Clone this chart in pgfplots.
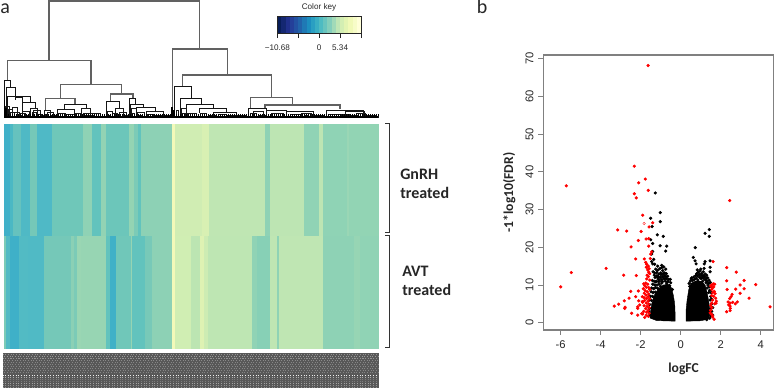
\documentclass[border=0pt]{standalone}
\usepackage{fontspec}
\setmainfont{Liberation Sans}
\newfontfamily\carl{Carlito}
\usepackage{pgfplots}
\pgfplotsset{compat=1.18}
\definecolor{k0}{HTML}{081D58}\definecolor{k1}{HTML}{142771}\definecolor{k2}{HTML}{20308B}\definecolor{k3}{HTML}{243F99}
\definecolor{k4}{HTML}{2351A2}\definecolor{k5}{HTML}{2263AA}\definecolor{k6}{HTML}{1F79B5}\definecolor{k7}{HTML}{1D8EBF}
\definecolor{k8}{HTML}{2A9FC2}\definecolor{k9}{HTML}{39AEC3}\definecolor{k10}{HTML}{4EBBC2}\definecolor{k11}{HTML}{68C4BE}
\definecolor{k12}{HTML}{83CEBB}\definecolor{k13}{HTML}{A1DAB8}\definecolor{k14}{HTML}{BFE6B5}\definecolor{k15}{HTML}{D3EEB3}
\definecolor{k16}{HTML}{E3F4B2}\definecolor{k17}{HTML}{F0F9B7}\definecolor{k18}{HTML}{F7FCC8}\definecolor{k19}{HTML}{FFFFD9}
% one heat-map band: x0 x1 y0 y1 colour
\newcommand\band[5]{\definecolor{h#5}{HTML}{#5}\addplot[fill=h#5,draw=h#5,line width=0.1pt,forget plot] coordinates {(#1,#3)(#2,#3)(#2,#4)(#1,#4)} -- cycle;}
\newcommand\T[5]{\band{#1}{#2}{124}{236}{#5}}
\newcommand\Bt[5]{\band{#1}{#2}{236}{348.3}{#5}}
\newcommand\U[5]{\addplot[black!92,line width=0.7pt,forget plot] coordinates {(#1,#4)(#1,#3)(#2,#3)(#2,#5)};}
\newcommand\G[5]{\addplot[black!62,line width=0.85pt,forget plot] coordinates {(#1,#4)(#1,#3)(#2,#3)(#2,#5)};}
\newcommand\Sm[3]{\addplot[black!90,line width=0.55pt,forget plot] coordinates {(#1,352)(#1,#3)(#2,#3)(#2,352)};}
\newcommand\Rw[3]{\addplot[white,opacity=#3,line width=0.7pt,dash pattern=on 0.8pt off 1.2pt,dash phase=#2pt,forget plot] coordinates {(3,#1)(378,#1)};}
\begin{document}
\begin{tikzpicture}
\useasboundingbox (0,0) rectangle (581.25pt,291pt);
% canvas in reference pixels: heat map, brackets, label block, texts
\begin{axis}[at={(0,0)},anchor=south west,scale only axis,width=581.25pt,height=291pt,
 xmin=0,xmax=775,ymin=0,ymax=388,y dir=reverse,hide axis,clip=false]
\T{4}{10}{}{}{40B0C8}\T{10}{12.7}{}{}{4BB8C4}\T{12.7}{21}{}{}{66C2BE}\T{21}{30}{}{}{4FB9C5}\T{30}{36.7}{}{}{75C8B8}
\T{36.7}{51.7}{}{}{4FB9C6}\T{51.7}{83.3}{}{}{6FC7B9}\T{83.3}{92.3}{}{}{8FD2B5}\T{92.3}{101}{}{}{62C3BD}\T{101}{106}{}{}{92D3B4}
\T{106}{128.7}{}{}{6CC6BA}\T{128.7}{134}{}{}{94D4B3}\T{134}{138.3}{}{}{7CCBB7}\T{138.3}{140.7}{}{}{62C3BD}\T{140.7}{172}{}{}{8DD1B5}
\T{172}{175}{}{}{F2F9B9}\T{175}{201.7}{}{}{D0EDB3}\T{201.7}{209}{}{}{D8F0B3}\T{209}{265}{}{}{BFE6B3}\T{265}{270}{}{}{8ED2B5}
\T{270}{304}{}{}{BDE5B3}\T{304}{319}{}{}{90D3B5}\T{319}{323.3}{}{}{BDE5B3}\T{323.3}{346.7}{}{}{8FD3B5}\T{346.7}{349}{}{}{9AD6B5}\T{349}{378.3}{}{}{92D4B4}
\Bt{4}{6}{}{}{7CCBB7}\Bt{6}{10}{}{}{52BAC4}\Bt{10}{19.3}{}{}{3FB0C8}\Bt{19.3}{28.3}{}{}{52BBC4}\Bt{28.3}{44}{}{}{50BAC5}
\Bt{44}{70.7}{}{}{75C8B8}\Bt{70.7}{74}{}{}{8BD0B5}\Bt{74}{77.3}{}{}{7CCBB7}\Bt{77.3}{81}{}{}{9AD6B3}\Bt{81}{106}{}{}{97D5B3}
\Bt{106}{110}{}{}{62C3BD}\Bt{110}{115.7}{}{}{40B1C7}\Bt{115.7}{130.7}{}{}{70C7B9}\Bt{130.7}{132.3}{}{}{96D4B3}\Bt{132.3}{145}{}{}{62C3BD}
\Bt{145}{151.7}{}{}{78C9B8}\Bt{151.7}{172}{}{}{8DD1B5}\Bt{172}{175}{}{}{F2F9B9}\Bt{175}{190.7}{}{}{D0EEB3}\Bt{190.7}{200}{}{}{BCE5B2}
\Bt{200}{204.3}{}{}{DEF2B3}\Bt{204.3}{208.3}{}{}{CDECB3}\Bt{208.3}{251.7}{}{}{BEE6B3}\Bt{251.7}{256.7}{}{}{90D3B5}\Bt{256.7}{270}{}{}{87D0B6}
\Bt{270}{276.7}{}{}{BFE6B3}\Bt{276.7}{278.7}{}{}{8FD3B5}\Bt{278.7}{323.3}{}{}{BFE6B3}\Bt{323.3}{354}{}{}{8ED2B5}\Bt{354}{360}{}{}{97D5B4}\Bt{360}{378.3}{}{}{90D3B5}
% sample-label block
\band{3}{378}{353}{388}{585858}
\Rw{354.5}{0.3}{0.35}\Rw{356.5}{1.1}{0.4}\Rw{358.5}{0.4}{0.35}\Rw{360.5}{1.2}{0.3}\Rw{362.5}{0.2}{0.28}\Rw{364.5}{1.0}{0.28}
\Rw{366.5}{0.2}{0.28}\Rw{368.5}{1.0}{0.28}\Rw{370.5}{0.2}{0.28}\Rw{372.5}{1.0}{0.28}\Rw{375}{0.5}{0.9}\Rw{377}{0.5}{0.5}
\Rw{379}{0.5}{0.22}\Rw{381}{0.5}{0.22}\Rw{383}{0.5}{0.45}\Rw{385}{0.5}{0.35}\Rw{387}{0.5}{0.35}
% brackets
\addplot[black!80,line width=0.6pt,forget plot] coordinates {(385,124)(389.3,124)(389.3,233)(385,233)};
\addplot[black!80,line width=0.6pt,forget plot] coordinates {(385,235.7)(389.3,235.7)(389.3,347.7)(385,347.7)};
\node[anchor=west,inner sep=0pt,font=\carl\bfseries\fontsize{12}{12}\selectfont,text=black!85] at (400,175) {GnRH};
\node[anchor=west,inner sep=0pt,font=\carl\bfseries\fontsize{12}{12}\selectfont,text=black!85] at (400,193.5) {treated};
\node[anchor=west,inner sep=0pt,font=\carl\bfseries\fontsize{12}{12}\selectfont,text=black!85] at (402,271.5) {AVT};
\node[anchor=west,inner sep=0pt,font=\carl\bfseries\fontsize{12}{12}\selectfont,text=black!85] at (402,290.5) {treated};
\node[anchor=base west,inner sep=0pt,font=\carl\fontsize{15}{15}\selectfont,text=black!85] at (0,14) {a};
\node[anchor=base west,inner sep=0pt,font=\carl\fontsize{15}{15}\selectfont,text=black!85] at (476.5,14) {b};
\node[font=\fontsize{6.1}{6.1}\selectfont,text=black!85] at (319,7.5) {Color key};
\end{axis}
% dendrogram, in units of a third of a reference pixel
\begin{axis}[at={(0,0)},anchor=south west,scale only axis,width=581.25pt,height=291pt,
 xmin=0,xmax=2325,ymin=0,ymax=1164,y dir=reverse,hide axis,clip=false]
\G{147}{598}{3}{182}{147}
\G{22}{273}{182}{240}{253}
\G{517}{682}{147}{352}{225}
\G{181}{365}{253}{295}{282}
\G{548}{815}{225}{260}{292}
\G{136}{225}{295}{330}{313}
\G{331}{399}{282}{305}{295}
\G{752}{877}{292}{325}{315}
\G{795}{1020}{315}{325}{328}
\U{14}{32}{240}{352}{262}
\U{18}{46}{262}{352}{290}
\U{22}{90}{290}{352}{308}
\U{46}{68}{291}{300}{310}
\U{68}{105}{308}{335}{326}
\U{193}{258}{313}{328}{325}
\U{318}{358}{305}{352}{325}
\U{388}{405}{295}{352}{312}
\U{392}{430}{312}{352}{323}
\U{408}{466}{323}{352}{335}
\U{522}{575}{260}{352}{295}
\U{540}{605}{295}{352}{312}
\U{560}{640}{312}{340}{328}
\U{598}{680}{325}{340}{337}
\U{640}{710}{337}{352}{345}
\U{745}{800}{325}{352}{340}
\U{860}{940}{335}{352}{352}
\Sm{16}{28}{320}\Sm{26}{36}{328}\Sm{30}{42}{336}\Sm{36}{52}{322}\Sm{44}{58}{338}\Sm{54}{64}{345}\Sm{60}{76}{340}
\Sm{66}{88}{335}\Sm{72}{82}{345}\Sm{92}{112}{326}\Sm{96}{108}{338}\Sm{100}{120}{332}\Sm{112}{126}{342}\Sm{122}{132}{346}
\Sm{132}{150}{330}\Sm{136}{146}{342}\Sm{142}{160}{338}\Sm{150}{168}{345}\Sm{160}{170}{348}
\Sm{172}{222}{328}\Sm{176}{196}{340}\Sm{180}{190}{348}\Sm{198}{222}{342}\Sm{204}{216}{348}\Sm{226}{244}{340}\Sm{232}{240}{348}
\Sm{245}{272}{325}\Sm{250}{300}{340}\Sm{254}{280}{347}\Sm{284}{300}{348}\Sm{302}{316}{348}
\Sm{322}{336}{335}\Sm{324}{332}{345}\Sm{338}{352}{340}\Sm{345}{370}{325}\Sm{350}{362}{342}\Sm{358}{380}{338}\Sm{372}{386}{345}
\Sm{394}{410}{325}\Sm{396}{404}{340}\Sm{412}{432}{338}\Sm{416}{426}{346}\Sm{438}{490}{335}\Sm{442}{460}{342}\Sm{462}{486}{346}\Sm{490}{508}{347}
\Sm{528}{536}{330}\Sm{544}{560}{325}\Sm{548}{556}{340}\Sm{562}{590}{340}\Sm{600}{620}{340}\Sm{628}{650}{345}\Sm{655}{680}{342}
\Sm{680}{705}{347}\Sm{710}{740}{345}\Sm{722}{738}{350}\Sm{750}{770}{340}\Sm{760}{790}{335}\Sm{775}{800}{345}
\Sm{800}{860}{330}\Sm{815}{850}{340}\Sm{870}{900}{342}\Sm{880}{895}{348}\Sm{905}{935}{340}\Sm{912}{925}{347}\Sm{940}{970}{345}
\Sm{978}{1090}{330}\Sm{985}{1050}{342}\Sm{990}{1015}{348}\Sm{1020}{1045}{345}\Sm{1035}{1092}{335}\Sm{1045}{1075}{345}
\Sm{1070}{1095}{340}\Sm{1080}{1090}{348}\Sm{1095}{1125}{347}\Sm{1110}{1135}{350}
% dense leaf fringe
\addplot[black,line width=1.7pt,dash pattern=on 0.7pt off 0.8pt,forget plot] coordinates {(12,346)(1135,346)};
\addplot[black,line width=0.8pt,forget plot] coordinates {(12,351)(1135,351)};
\addplot[black,line width=1.2pt,forget plot] coordinates {(13,300)(13,352)};
\addplot[black,line width=2pt,forget plot] coordinates {(16,325)(16,352)};
\addplot[black,line width=1.4pt,forget plot] coordinates {(516,320)(516,352)};
\addplot[black,line width=1.6pt,forget plot] coordinates {(522,330)(522,352)};
\end{axis}
% colour key
\begin{axis}[at={(207.98pt,266.25pt)},anchor=south west,scale only axis,width=62.8pt,height=12.75pt,
 xmin=-10.68,xmax=10.68,ymin=0,ymax=1,ytick=\empty,
 xtick={-10.68,-5.34,0,5.34,10.68},xticklabels={−10.68,,0,5.34,},
 x tick label style={font=\fontsize{6.1}{6.1}\selectfont,text=black!85,yshift=-1.8pt},
 /pgf/number format/assume math mode=true,
 axis line style={black!85,line width=0.4pt},tick style={black!85,line width=0.5pt},
 tick align=outside,xtick pos=bottom,major tick length=3.8pt,axis on top]
\addplot[fill=k0,draw=k0,line width=0.1pt] coordinates {(-10.68,0)(-9.612,0)(-9.612,1)(-10.68,1)} -- cycle;
\addplot[fill=k1,draw=k1,line width=0.1pt] coordinates {(-9.612,0)(-8.544,0)(-8.544,1)(-9.612,1)} -- cycle;
\addplot[fill=k2,draw=k2,line width=0.1pt] coordinates {(-8.544,0)(-7.476,0)(-7.476,1)(-8.544,1)} -- cycle;
\addplot[fill=k3,draw=k3,line width=0.1pt] coordinates {(-7.476,0)(-6.408,0)(-6.408,1)(-7.476,1)} -- cycle;
\addplot[fill=k4,draw=k4,line width=0.1pt] coordinates {(-6.408,0)(-5.34,0)(-5.34,1)(-6.408,1)} -- cycle;
\addplot[fill=k5,draw=k5,line width=0.1pt] coordinates {(-5.34,0)(-4.272,0)(-4.272,1)(-5.34,1)} -- cycle;
\addplot[fill=k6,draw=k6,line width=0.1pt] coordinates {(-4.272,0)(-3.204,0)(-3.204,1)(-4.272,1)} -- cycle;
\addplot[fill=k7,draw=k7,line width=0.1pt] coordinates {(-3.204,0)(-2.136,0)(-2.136,1)(-3.204,1)} -- cycle;
\addplot[fill=k8,draw=k8,line width=0.1pt] coordinates {(-2.136,0)(-1.068,0)(-1.068,1)(-2.136,1)} -- cycle;
\addplot[fill=k9,draw=k9,line width=0.1pt] coordinates {(-1.068,0)(0,0)(0,1)(-1.068,1)} -- cycle;
\addplot[fill=k10,draw=k10,line width=0.1pt] coordinates {(0,0)(1.068,0)(1.068,1)(0,1)} -- cycle;
\addplot[fill=k11,draw=k11,line width=0.1pt] coordinates {(1.068,0)(2.136,0)(2.136,1)(1.068,1)} -- cycle;
\addplot[fill=k12,draw=k12,line width=0.1pt] coordinates {(2.136,0)(3.204,0)(3.204,1)(2.136,1)} -- cycle;
\addplot[fill=k13,draw=k13,line width=0.1pt] coordinates {(3.204,0)(4.272,0)(4.272,1)(3.204,1)} -- cycle;
\addplot[fill=k14,draw=k14,line width=0.1pt] coordinates {(4.272,0)(5.34,0)(5.34,1)(4.272,1)} -- cycle;
\addplot[fill=k15,draw=k15,line width=0.1pt] coordinates {(5.34,0)(6.408,0)(6.408,1)(5.34,1)} -- cycle;
\addplot[fill=k16,draw=k16,line width=0.1pt] coordinates {(6.408,0)(7.476,0)(7.476,1)(6.408,1)} -- cycle;
\addplot[fill=k17,draw=k17,line width=0.1pt] coordinates {(7.476,0)(8.544,0)(8.544,1)(7.476,1)} -- cycle;
\addplot[fill=k18,draw=k18,line width=0.1pt] coordinates {(8.544,0)(9.612,0)(9.612,1)(8.544,1)} -- cycle;
\addplot[fill=k19,draw=k19,line width=0.1pt] coordinates {(9.612,0)(10.68,0)(10.68,1)(9.612,1)} -- cycle;
\end{axis}
% volcano plot
\begin{axis}[at={(407.475pt,43.5pt)},anchor=south west,scale only axis,width=172.5pt,height=206.25pt,
 xmin=-6.87,xmax=4.63,ymin=-1.94,ymax=71,
 xtick={-6,-4,-2,0,2,4},ytick={0,10,20,30,40,50,60,70},
 /pgf/number format/assume math mode=true,
 tick label style={font=\fontsize{8.4}{8.4}\selectfont,text=black!85},
 xticklabel style={yshift=-1pt},
 yticklabel style={rotate=90,anchor=south,yshift=0pt},
 axis line style={black!50,line width=0.8pt},tick style={black!50,line width=0.6pt},
 tick align=outside,xtick pos=bottom,ytick pos=left,major tick length=3.75pt,
 xlabel={logFC},ylabel={-1*log10(FDR)},
 label style={font=\carl\bfseries\fontsize{10.2}{10.2}\selectfont,text=black!85},
 xlabel style={at={(axis description cs:0.61,-0.142)},anchor=center},
 ylabel style={at={(axis description cs:-0.148,0.5)},anchor=center}]
\addplot[fill=black,draw=black,line width=0.3pt,forget plot] coordinates {(-0.28,0.4)(-0.28,2.5)(-0.3,5.1)(-0.37,7.3)(-0.45,9.1)(-0.57,10.2)(-0.87,10)(-1.12,9)(-1.3,7.5)(-1.45,5)(-1.52,2.5)(-1.5,1.15)(-1.2,0.55)} -- cycle;
\addplot[fill=black,draw=black,line width=0.3pt,forget plot] coordinates {(0.27,0.4)(0.27,3.4)(0.32,6)(0.4,8.7)(0.5,10.4)(0.72,11)(1.05,11)(1.22,10)(1.33,7.8)(1.42,5.1)(1.47,2.5)(1.38,0.9)(0.97,0.5)} -- cycle;
\addplot[only marks,black,mark=*,mark size=1pt,mark options={draw=none,fill=black},forget plot] coordinates {
(-1.27,34.4)(-1.02,29.2)(-1.02,26.8)(-1.5,27.7)(-1.43,25.5)(-1.17,23.3)(-0.87,22.9)(-1.5,22)(-1.4,21)(-1.03,20.4)(-0.7,20.3)(-0.75,19)(-1.45,18.2)
(-1.4,18.9)(-1.35,16.8)(-1.45,16.2)(-1.4,15.6)
(-1.3,15.5)(-1.15,15)(-0.95,15.2)(-0.85,14.8)(-1.25,14.2)(-1.05,14.3)(-0.75,14.2)(-0.9,13.8)(-1.38,13.5)(-1.2,13.3)(-0.8,13.2)(-0.72,13)(-1.1,12.9)(-0.98,12.7)(-0.65,12.3)
(-1.32,12.6)(-1.28,12)(-1.15,11.9)(-0.85,11.8)(-0.72,11.7)(-0.6,11.5)(-1.42,11.2)(-1.33,11)(-1.22,11)(-1.05,11)(-0.95,11.4)(-0.77,11)(-0.67,10.8)(-0.62,11)
(-1.4,10.2)(-1.3,10)(-1.18,10)(-1.08,10.2)(-0.95,10.5)(-1.45,9.2)(-1.35,9)(-1.25,9.3)(-1.15,9.1)(-1.48,8.2)(-1.38,8)(-1.27,8.1)(-1.52,7)(-1.42,7)(-1.35,6.8)
(-1.55,6)(-1.46,5.9)(-1.55,4.8)(-1.57,3.8)(-1.6,3)(-1.55,2)(-1.48,1.5)(-0.5,10.6)(-0.52,11.5)(-0.55,9.8)(-0.42,8.8)(-1.0,9.6)(-1.12,12.3)(-0.9,12.2)(-0.82,12.6)
(-1.25,10.8)(-1.12,10.9)(-0.9,10.9)(-0.8,11.6)(-1.02,12)(-1.2,12.4)(-0.75,12.3)(-0.88,13)(-1,13.2)(-1.15,13.9)(-0.95,14.6)(-1.3,13.2)(-0.7,10.3)(-1.1,11.5)
(1.43,24.7)(1.22,23.7)(1.43,22.9)(0.73,19.9)(0.63,17.3)(0.72,16.4)(0.77,15.6)(1.22,16.2)(1.18,15.6)(1.47,16.4)(1.47,14.7)(1.47,13.5)
(0.83,14)(0.97,13.7)(1.13,13.5)(1.22,12.9)(1.05,13)(1.3,12.6)(0.88,13.4)(1.17,14.4)(1,14.2)
(0.52,11.6)(0.6,11.2)(0.7,11.5)(0.78,11.8)(0.86,11.3)(0.95,12)(1.02,11.7)(1.1,12)(1.17,11.6)(1.25,11.3)(1.33,11)(1.42,11.3)(1.48,10.7)(1.36,10)(1.42,9.5)(1.5,9.6)
(1.45,8.6)(1.52,8)(1.4,8)(1.5,7)(1.55,6.3)(1.47,6)(1.55,5)(1.6,4)(1.5,3.8)(1.55,3)(1.6,2)(1.5,1.8)(1.45,1.2)(1.3,0.8)(1.27,10.6)(1.32,9.2)(0.45,9.6)(0.42,10.4)
(0.55,11.9)(0.65,12.1)(0.75,12.5)(0.85,12.4)(0.93,12.8)(1.02,12.4)(1.12,12.5)(1.2,12.2)(1.35,11.9)(1.4,10.4)(0.48,11)(1.28,11.8)(0.8,13)(1.1,11)
};
\addplot[only marks,red,mark=*,mark size=1pt,mark options={draw=none,fill=red},forget plot] coordinates {
(-1.63,68.2)(-2.32,41.5)(-1.77,38.1)(-2.1,37.1)(-1.62,35.1)(-2.32,34.2)(-2.22,33.1)(-5.72,36.3)(2.45,32.4)(-1.9,28.5)(-1.4,26.5)(-1.58,25.4)(-3.15,24.6)(-2.7,24.3)(-1.98,24.2)
(-2.12,21.8)(-1.73,22.2)(-1.6,22.3)(-2.48,20.1)(-1.6,20.3)(-1.45,18.8)(-1.5,18.2)(-2.25,16.9)(-1.82,16.9)(-1.52,17)(-3.73,14.4)(-5.47,13.3)(-6,9.5)(-2.85,12.6)(-2.22,12.5)
(-2.5,8.3)(-2.12,8.4)(-2.58,6.5)(-2.25,6.9)(-2.82,5.8)(-3.1,4.9)(-3.32,4.4)(-2.8,3.8)(-2.78,4.1)(-2.45,2.5)(-2.15,2)(-2.15,3.8)(-2.15,4.2)(-1.92,5.6)(-2.1,5.8)(-2.05,4.7)(-1.95,2.4)
(-1.75,16)(-1.7,15.5)(-1.62,15)(-1.72,14.7)(-1.58,14.3)(-1.65,14)(-1.6,13.4)(-1.55,13)(-1.68,12.6)(-1.62,12.2)(-1.7,11.6)(-1.55,11.3)(-1.75,10.5)(-1.85,10.3)(-1.65,10.2)(-1.8,9.8)
(-1.72,9.4)(-1.6,9.3)(-1.87,9)(-1.55,8.8)(-1.78,8.5)(-1.67,8.2)(-1.82,7.8)(-1.6,7.6)(-1.73,7.3)(-1.92,6.9)(-1.62,6.9)(-1.83,6.6)(-1.7,6.4)(-1.55,6.3)(-1.8,5.9)(-1.63,5.7)(-1.9,5.4)
(-1.72,5.2)(-1.6,4.9)(-1.83,4.5)(-1.68,4.3)(-1.57,4)(-1.75,3.7)(-1.62,3.3)(-1.85,3)(-1.7,2.8)(-1.58,2.5)(-1.9,2.3)(-1.72,2)(-1.62,1.7)(-1.8,1.4)
(1.62,16.2)(1.55,10)(1.63,10.3)(1.7,10.2)(1.5,9.7)(1.58,9.2)(1.65,9.5)(1.55,8.8)(1.68,8.3)(1.6,8)(1.72,7.7)(1.65,7)(1.55,7.2)(1.75,6.5)(1.78,5.7)(1.7,5)(1.77,5.2)(1.6,6)(1.55,5.2)
(1.5,4.6)(1.55,4)(1.5,3.3)(1.47,2.6)(1.55,2.2)(1.6,1.5)(1.67,0.9)(1.58,1.9)
(2.3,14.6)(2.78,13.4)(2.3,11.1)(3.17,11.2)(2.97,10)(3.75,10.1)(2.32,8.8)(2.75,8.9)(3.17,9)(2.97,7.8)(2.57,7.5)(2.52,6.9)(2.45,6.4)(3.42,6.5)
(2.37,5.5)(2.47,5.2)(2.6,5.4)(2.83,5.5)(2.73,5)(2.4,4.7)(2.47,4.4)(2.48,3.8)(4.67,5.6)(4.47,4.2)(2.3,2.9)(2.47,3.2)
};
\addplot[only marks,red,mark=o,mark size=1pt,mark options={draw=red,line width=0.25pt},forget plot] coordinates {(-1.83,26.3)};
\end{axis}
\end{tikzpicture}
\end{document}
